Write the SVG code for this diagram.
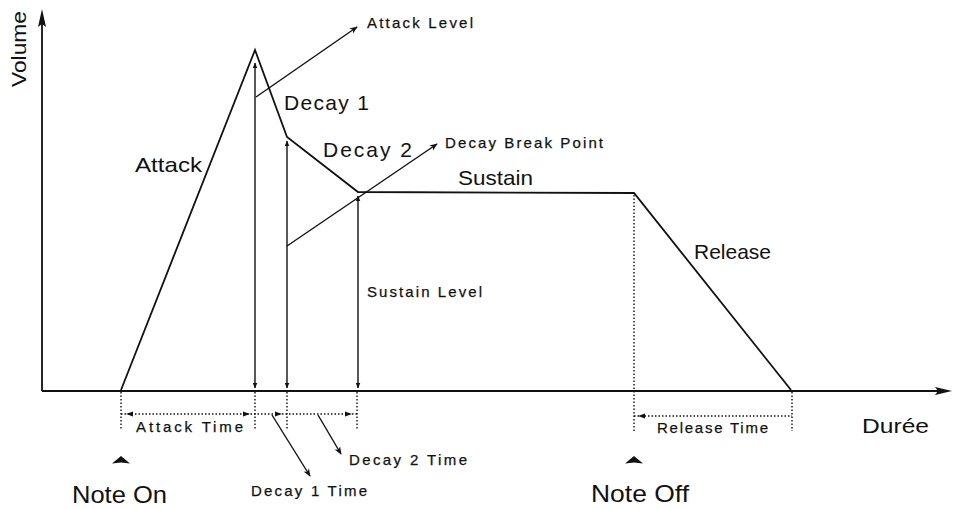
<svg xmlns="http://www.w3.org/2000/svg" width="954" height="509" viewBox="0 0 954 509">
<style>
  .big { font-family: "Liberation Sans", Arial, sans-serif; font-size: 21px; fill: #111; }
  .note { font-family: "Liberation Sans", Arial, sans-serif; font-size: 24px; fill: #111; }
  .small { font-family: "Liberation Sans", Arial, sans-serif; font-size: 15px; fill: #111; stroke: #111; stroke-width: 0.25; }
  .solid { fill: none; stroke: #111; stroke-width: 1.8; stroke-linejoin: miter; }
  .thin { fill: none; stroke: #111; stroke-width: 1.4; }
  .dot { fill: none; stroke: #111; stroke-width: 1.4; stroke-dasharray: 1.5 2; }
  .head { fill: #111; stroke: none; }
</style>
<defs>
  <marker id="arr" viewBox="0 0 10 10" refX="9" refY="5" markerWidth="8" markerHeight="8" markerUnits="userSpaceOnUse" orient="auto">
    <path d="M0,1 L10,5 L0,9 L3,5 Z" fill="#111"/>
  </marker>
  <marker id="arrS" viewBox="0 0 10 10" refX="9" refY="5" markerWidth="6" markerHeight="6" markerUnits="userSpaceOnUse" orient="auto-start-reverse">
    <path d="M0,1 L10,5 L0,9 Z" fill="#111"/>
  </marker>
</defs>
<rect width="954" height="509" fill="#fff"/>

<g id="axes">
  <line class="solid" x1="42" y1="391" x2="42" y2="20"/>
  <path class="head" d="M42,9 L46,27 L42,24 L38,27 Z"/>
  <line class="solid" x1="42" y1="391" x2="940" y2="391"/>
  <path class="head" d="M952,391 L935,387 L938,391 L935,395 Z"/>
</g>

<g id="envelope">
  <polyline class="solid" points="121,390 255,50 287,137 358,192 634,193 791,390"/>
</g>

<g id="connectors">
  <line class="thin" x1="255" y1="388" x2="255" y2="63" marker-start="url(#arrS)" marker-end="url(#arrS)"/>
  <line class="thin" x1="287" y1="388" x2="287" y2="141" marker-start="url(#arrS)" marker-end="url(#arrS)"/>
  <line class="thin" x1="358" y1="388" x2="358" y2="196" marker-start="url(#arrS)" marker-end="url(#arrS)"/>
  <line class="thin" x1="256" y1="97" x2="357" y2="27" marker-end="url(#arr)"/>
  <line class="thin" x1="287" y1="246" x2="437" y2="144" marker-end="url(#arr)"/>
  <line class="thin" x1="272" y1="415" x2="310" y2="476" marker-end="url(#arr)"/>
  <line class="thin" x1="318" y1="415" x2="341" y2="454" marker-end="url(#arr)"/>
  <line class="dot" x1="121" y1="392" x2="121" y2="430"/>
  <line class="dot" x1="255" y1="392" x2="255" y2="430"/>
  <line class="dot" x1="287" y1="392" x2="287" y2="430"/>
  <line class="dot" x1="357" y1="392" x2="357" y2="430"/>
  <line class="dot" x1="634" y1="195" x2="634" y2="431"/>
  <line class="dot" x1="792" y1="392" x2="792" y2="431"/>
  <line class="dot" x1="121" y1="414" x2="357" y2="414"/>
  <path class="head" d="M126,414 L133,411.5 L133,416.5 Z"/>
  <path class="head" d="M250,414 L243,411.5 L243,416.5 Z"/>
  <path class="head" d="M282,414 L275,411.5 L275,416.5 Z"/>
  <path class="head" d="M352,414 L345,411.5 L345,416.5 Z"/>
  <line class="dot" x1="634" y1="416" x2="792" y2="416"/>
  <path class="head" d="M638,416 L645,413.5 L645,418.5 Z"/>
  <path class="head" d="M121,456 L130,463.5 L121,462.5 L112,463.5 Z"/>
  <path class="head" d="M634,456 L643,463.5 L634,462.5 L625,463.5 Z"/>
</g>

<g id="label-volume"><text class="big" transform="translate(26,87) rotate(-90)" textLength="76" lengthAdjust="spacingAndGlyphs">Volume</text></g>
<g id="label-attack"><text class="big" x="135" y="172" textLength="67" lengthAdjust="spacingAndGlyphs">Attack</text></g>
<g id="label-decay1"><text class="big" x="284" y="110" textLength="85" lengthAdjust="spacing">Decay  1</text></g>
<g id="label-decay2"><text class="big" x="323" y="157" textLength="89" lengthAdjust="spacing">Decay  2</text></g>
<g id="label-sustain"><text class="big" x="458" y="185" textLength="75" lengthAdjust="spacingAndGlyphs">Sustain</text></g>
<g id="label-release"><text class="big" x="694" y="259" textLength="77" lengthAdjust="spacingAndGlyphs">Release</text></g>
<g id="label-duree"><text class="big" x="862" y="433" textLength="67" lengthAdjust="spacingAndGlyphs">Durée</text></g>
<g id="label-noteon"><text class="note" x="72" y="503" textLength="95" lengthAdjust="spacingAndGlyphs">Note On</text></g>
<g id="label-noteoff"><text class="note" x="591" y="502" textLength="98" lengthAdjust="spacingAndGlyphs">Note Off</text></g>

<g id="label-attack-level"><text class="small" x="367" y="28" textLength="106" lengthAdjust="spacing">Attack Level</text></g>
<g id="label-decay-break"><text class="small" x="445" y="148" textLength="158" lengthAdjust="spacing">Decay Break Point</text></g>
<g id="label-sustain-level"><text class="small" x="367" y="297" textLength="115" lengthAdjust="spacing">Sustain Level</text></g>
<g id="label-attack-time"><text class="small" x="136" y="432" textLength="107" lengthAdjust="spacing">Attack Time</text></g>
<g id="label-release-time"><text class="small" x="657" y="433" textLength="111" lengthAdjust="spacing">Release Time</text></g>
<g id="label-decay2-time"><text class="small" x="349" y="465" textLength="118" lengthAdjust="spacing">Decay 2 Time</text></g>
<g id="label-decay1-time"><text class="small" x="251" y="496" textLength="116" lengthAdjust="spacing">Decay 1 Time</text></g>
</svg>
